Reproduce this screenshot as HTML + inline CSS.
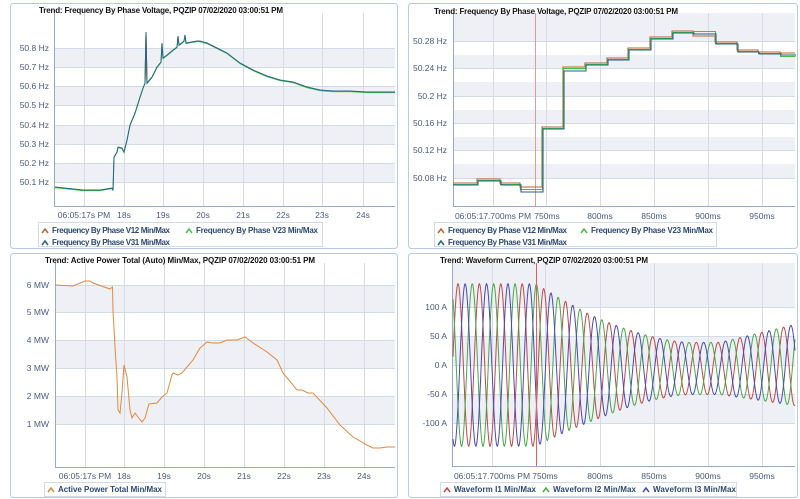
<!DOCTYPE html>
<html><head><meta charset="utf-8"><style>
html,body{margin:0;padding:0;background:#fff;width:800px;height:499px;overflow:hidden}
svg{display:block}
text{font-family:"Liberation Sans",sans-serif}
.t{font-size:8px;font-weight:bold;fill:#111}
.y{font-size:8.5px;fill:#4a5a78;text-anchor:end}
.x{font-size:8.5px;fill:#4a5a78;text-anchor:middle}
.l{font-size:8px;font-weight:bold;fill:#2c4870}
.fr{fill:none;stroke:#b9cbe0;stroke-width:1}
.g{stroke:#d3dbe6;stroke-width:1}
.ax{stroke:#97a9c3;stroke-width:1;fill:none}
.band{fill:#eef0f5}
</style></head><body>
<svg id="s" width="800" height="499" viewBox="0 0 800 499" xmlns="http://www.w3.org/2000/svg">
<rect class="fr" x="10.5" y="3.5" width="387" height="245" rx="3"/>
<rect class="fr" x="408.5" y="3.5" width="389" height="245" rx="3"/>
<rect class="fr" x="10.5" y="253.5" width="387" height="244" rx="3"/>
<rect class="fr" x="408.5" y="253.5" width="389" height="244" rx="3"/>

<!-- Panel 1 -->
<rect class="band" x="54" y="48" width="341" height="19"/>
<rect class="band" x="54" y="87" width="341" height="19"/>
<rect class="band" x="54" y="125" width="341" height="19"/>
<rect class="band" x="54" y="163" width="341" height="19"/>
<g class="g">
<line x1="54" x2="395" y1="48.5" y2="48.5"/><line x1="54" x2="395" y1="67.5" y2="67.5"/><line x1="54" x2="395" y1="86.5" y2="86.5"/><line x1="54" x2="395" y1="105.5" y2="105.5"/><line x1="54" x2="395" y1="125.5" y2="125.5"/><line x1="54" x2="395" y1="144.5" y2="144.5"/><line x1="54" x2="395" y1="163.5" y2="163.5"/><line x1="54" x2="395" y1="182.5" y2="182.5"/>
<line x1="84.5" x2="84.5" y1="13" y2="206"/><line x1="124.5" x2="124.5" y1="13" y2="206"/><line x1="163.5" x2="163.5" y1="13" y2="206"/><line x1="203.5" x2="203.5" y1="13" y2="206"/><line x1="243.5" x2="243.5" y1="13" y2="206"/><line x1="283.5" x2="283.5" y1="13" y2="206"/><line x1="322.5" x2="322.5" y1="13" y2="206"/><line x1="363.5" x2="363.5" y1="13" y2="206"/>
</g>
<polyline class="ax" points="54.5,13 54.5,206.5 395,206.5"/>
<text class="t" x="39" y="13" textLength="244">Trend: Frequency By Phase Voltage, PQZIP 07/02/2020 03:00:51 PM</text>
<g class="y"><text x="49" y="51">50.8 Hz</text><text x="49" y="70">50.7 Hz</text><text x="49" y="89">50.6 Hz</text><text x="49" y="108">50.5 Hz</text><text x="49" y="128">50.4 Hz</text><text x="49" y="147">50.3 Hz</text><text x="49" y="166">50.2 Hz</text><text x="49" y="185">50.1 Hz</text></g>
<g class="x"><text x="84" y="218">06:05:17s PM</text><text x="124" y="218">18s</text><text x="163" y="218">19s</text><text x="203" y="218">20s</text><text x="243" y="218">21s</text><text x="283" y="218">22s</text><text x="322" y="218">23s</text><text x="363" y="218">24s</text></g>
<polyline id="f1g" fill="none" stroke="#3cc43c" stroke-width="1" points=""/>
<polyline id="f1o" fill="none" stroke="#c0622a" stroke-width="1" points=""/>
<polyline id="f1b" fill="none" stroke="#2a6486" stroke-width="1" points=""/>
<rect x="38.5" y="222.5" width="284" height="24" fill="#fff" stroke="#d3dbe6"/>
<polyline points="42,233 45,229 48,233" fill="none" stroke="#c0622a" stroke-width="1.5"/>
<text class="l" x="52" y="233" textLength="118">Frequency By Phase V12 Min/Max</text>
<polyline points="186,233 189,229 192,233" fill="none" stroke="#3cc43c" stroke-width="1.5"/>
<text class="l" x="196" y="233" textLength="122">Frequency By Phase V23 Min/Max</text>
<polyline points="42,245 45,241 48,245" fill="none" stroke="#2a5f86" stroke-width="1.5"/>
<text class="l" x="52" y="245" textLength="118">Frequency By Phase V31 Min/Max</text>

<!-- Panel 2 -->
<rect class="band" x="453" y="13" width="342" height="28"/>
<rect class="band" x="453" y="55" width="342" height="14"/>
<rect class="band" x="453" y="82" width="342" height="14"/>
<rect class="band" x="453" y="110" width="342" height="14"/>
<rect class="band" x="453" y="137" width="342" height="14"/>
<rect class="band" x="453" y="164" width="342" height="14"/>
<g class="g">
<line x1="453" x2="795" y1="41.5" y2="41.5"/><line x1="453" x2="795" y1="68.5" y2="68.5"/><line x1="453" x2="795" y1="96.5" y2="96.5"/><line x1="453" x2="795" y1="123.5" y2="123.5"/><line x1="453" x2="795" y1="150.5" y2="150.5"/><line x1="453" x2="795" y1="178.5" y2="178.5"/>
<line x1="493.5" x2="493.5" y1="13" y2="206"/><line x1="546.5" x2="546.5" y1="13" y2="206"/><line x1="600.5" x2="600.5" y1="13" y2="206"/><line x1="654.5" x2="654.5" y1="13" y2="206"/><line x1="708.5" x2="708.5" y1="13" y2="206"/><line x1="762.5" x2="762.5" y1="13" y2="206"/>
</g>
<polyline class="ax" points="453.5,13 453.5,206.5 795,206.5"/>
<text class="t" x="434" y="14" textLength="244">Trend: Frequency By Phase Voltage, PQZIP 07/02/2020 03:00:51 PM</text>
<g class="y"><text x="447" y="44">50.28 Hz</text><text x="447" y="71">50.24 Hz</text><text x="447" y="99">50.2 Hz</text><text x="447" y="126">50.16 Hz</text><text x="447" y="153">50.12 Hz</text><text x="447" y="181">50.08 Hz</text></g>
<g class="x"><text x="493" y="219">06:05:17.700ms PM</text><text x="547" y="219">750ms</text><text x="600" y="219">800ms</text><text x="654" y="219">850ms</text><text x="708" y="219">900ms</text><text x="762" y="219">950ms</text></g>
<line x1="535.5" x2="535.5" y1="13" y2="206" stroke="#e59a9a" stroke-width="1"/>
<polyline id="f2o" fill="none" stroke="#c0622a" stroke-width="1.1" points=""/>
<polyline id="f2g" fill="none" stroke="#3cc43c" stroke-width="1.1" points=""/>
<polyline id="f2b" fill="none" stroke="#2a5f86" stroke-width="1.1" points=""/>
<rect x="434.5" y="222.5" width="282" height="24" fill="#fff" stroke="#d3dbe6"/>
<polyline points="438,233 441,229 444,233" fill="none" stroke="#c0622a" stroke-width="1.5"/>
<text class="l" x="448" y="233" textLength="119">Frequency By Phase V12 Min/Max</text>
<polyline points="581,233 584,229 587,233" fill="none" stroke="#3cc43c" stroke-width="1.5"/>
<text class="l" x="591" y="233" textLength="122">Frequency By Phase V23 Min/Max</text>
<polyline points="438,245 441,241 444,245" fill="none" stroke="#2a5f86" stroke-width="1.5"/>
<text class="l" x="448" y="245" textLength="119">Frequency By Phase V31 Min/Max</text>

<!-- Panel 3 -->
<rect class="band" x="55" y="285" width="340" height="27"/>
<rect class="band" x="55" y="340" width="340" height="28"/>
<rect class="band" x="55" y="396" width="340" height="28"/>
<g class="g">
<line x1="55" x2="395" y1="285.5" y2="285.5"/><line x1="55" x2="395" y1="312.5" y2="312.5"/><line x1="55" x2="395" y1="340.5" y2="340.5"/><line x1="55" x2="395" y1="368.5" y2="368.5"/><line x1="55" x2="395" y1="396.5" y2="396.5"/><line x1="55" x2="395" y1="424.5" y2="424.5"/>
<line x1="85.5" x2="85.5" y1="263" y2="467"/><line x1="124.5" x2="124.5" y1="263" y2="467"/><line x1="164.5" x2="164.5" y1="263" y2="467"/><line x1="204.5" x2="204.5" y1="263" y2="467"/><line x1="244.5" x2="244.5" y1="263" y2="467"/><line x1="284.5" x2="284.5" y1="263" y2="467"/><line x1="324.5" x2="324.5" y1="263" y2="467"/><line x1="364.5" x2="364.5" y1="263" y2="467"/>
</g>
<polyline class="ax" points="55.5,263 55.5,467.5 395,467.5"/>
<text class="t" x="45" y="263" textLength="270">Trend: Active Power Total (Auto) Min/Max, PQZIP 07/02/2020 03:00:51 PM</text>
<g class="y"><text x="49" y="288">6 MW</text><text x="49" y="315">5 MW</text><text x="49" y="343">4 MW</text><text x="49" y="371">3 MW</text><text x="49" y="399">2 MW</text><text x="49" y="427">1 MW</text></g>
<g class="x"><text x="85" y="479">06:05:17s PM</text><text x="124" y="479">18s</text><text x="164" y="479">19s</text><text x="204" y="479">20s</text><text x="244" y="479">21s</text><text x="284" y="479">22s</text><text x="324" y="479">23s</text><text x="364" y="479">24s</text></g>
<polyline fill="none" stroke="#e08a3c" stroke-width="1" points="55,285 73,286 85,281 90,281 93,283 110,289 112.5,287 113,310 115,347 117,377 118,410 120,413 122,393 124,365 127,377 130,410 132,418 135,413 138,417 142,422 145,418 149,404 157,403 162,397 167,393 172,375 173,373 178,375 182,373 187,367 193,360 200,348 207,342 212,343 220,343 227,340 237,340 245,337 253,343 267,352 277,360 283,373 293,385 297,390 302,390 308,393 313,393 327,408 340,425 353,437 367,445 373,448 380,448 387,447 395,447"/>
<rect x="44.5" y="482.5" width="121" height="14" fill="#fff" stroke="#d3dbe6"/>
<polyline points="48,492 51,488 54,492" fill="none" stroke="#e08a3c" stroke-width="1.5"/>
<text class="l" x="58" y="492" textLength="104">Active Power Total Min/Max</text>

<!-- Panel 4 -->
<rect class="band" x="452" y="263" width="343" height="44"/>
<rect class="band" x="452" y="336" width="343" height="29"/>
<rect class="band" x="452" y="394" width="343" height="29"/>
<g class="g">
<line x1="452" x2="795" y1="307.5" y2="307.5"/><line x1="452" x2="795" y1="336.5" y2="336.5"/><line x1="452" x2="795" y1="365.5" y2="365.5"/><line x1="452" x2="795" y1="394.5" y2="394.5"/><line x1="452" x2="795" y1="423.5" y2="423.5"/>
<line x1="492.5" x2="492.5" y1="263" y2="466"/><line x1="545.5" x2="545.5" y1="263" y2="466"/><line x1="600.5" x2="600.5" y1="263" y2="466"/><line x1="654.5" x2="654.5" y1="263" y2="466"/><line x1="708.5" x2="708.5" y1="263" y2="466"/><line x1="762.5" x2="762.5" y1="263" y2="466"/>
</g>
<polyline class="ax" points="452.5,263 452.5,466.5 795,466.5"/>
<text class="t" x="440" y="263" textLength="208">Trend: Waveform Current, PQZIP 07/02/2020 03:00:51 PM</text>
<g class="y"><text x="447" y="310">100 A</text><text x="447" y="339">50 A</text><text x="447" y="368">0 A</text><text x="447" y="397">-50 A</text><text x="447" y="426">-100 A</text></g>
<g class="x"><text x="492" y="479">06:05:17.700ms PM</text><text x="545" y="479">750ms</text><text x="600" y="479">800ms</text><text x="654" y="479">850ms</text><text x="708" y="479">900ms</text><text x="762" y="479">950ms</text></g>
<polyline id="w1" fill="none" stroke="#c04848" stroke-width="1" points=""/>
<polyline id="w2" fill="none" stroke="#48a848" stroke-width="1" points=""/>
<polyline id="w3" fill="none" stroke="#4848b8" stroke-width="1" points=""/>
<line x1="536.5" x2="536.5" y1="263" y2="466" stroke="#e06060" stroke-width="1"/>
<rect x="440.5" y="482.5" width="296" height="14" fill="#fff" stroke="#d3dbe6"/>
<polyline points="444,492 447,488 450,492" fill="none" stroke="#c04848" stroke-width="1.5"/>
<text class="l" x="454" y="492" textLength="82">Waveform I1 Min/Max</text>
<polyline points="543,492 546,488 549,492" fill="none" stroke="#48a848" stroke-width="1.5"/>
<text class="l" x="553" y="492" textLength="83">Waveform I2 Min/Max</text>
<polyline points="643,492 646,488 649,492" fill="none" stroke="#4848b8" stroke-width="1.5"/>
<text class="l" x="653" y="492" textLength="83">Waveform I3 Min/Max</text>
</svg>
<script>
function set(id,pts){document.getElementById(id).setAttribute('points',pts.map(function(p){return p[0].toFixed(1)+','+p[1].toFixed(1)}).join(' '));}
var f1=[[55,187],[83,190],[100,190],[112,188],[113,190],[114,157],[117,152],[118,147],[122,148],[124,152],[127,140],[130,125],[135,113],[140,97],[143,88],[145,83],[146,32],[147,83],[152,77],[157,67],[161,62],[162,43],[163,58],[167,55],[173,50],[177,47],[178,36],[179,45],[184,41],[185,35],[186,43],[197,41],[200,41],[207,43],[217,48],[227,53],[240,63],[253,70],[267,76],[280,80],[293,82],[307,87],[320,90],[333,91],[350,91],[367,92],[395,92]];
set('f1g',f1.map(function(p){return [p[0],p[1]+0.6]}));
set('f1o',f1.filter(function(p){return p[0]>=145&&p[0]<=148}));
set('f1b',f1.map(function(p){return [p[0],p[1]]}));
var st=[[453,184],[477,180],[500,184],[520,189],[542,128],[563,68],[585,64],[607,59],[628,49],[650,38],[672,32],[693,33],[715,43],[737,51],[758,53],[780,54],[795,54]];
function steps(dy,dx,varr){var o=[];for(var i=0;i<st.length-1;i++){var y=st[i][1]+dy+(varr?varr[i]||0:0);o.push([st[i][0]+(i?dx:0),y]);o.push([st[i+1][0]+dx,y]);}return o;}
set('f2o',steps(-1,0,{3:-1,11:4,12:0}));
set('f2g',steps(0.5,0.5,{11:-2,15:2}));
set('f2b',steps(1,1,{3:2,5:2}));
function env(x){if(x<536)return 140;if(x<690){var t=(x-536)/154;return 45+95*Math.pow(1-t,1.6);}if(x<720)return 45;return 45+25*(x-720)/75;}
function off(x){return x<536?0:-6*Math.min(1,(x-536)/60)*(x<720?1:1-(x-720)/75);}
function phase(x){ if(x<536) return (x-458)/21.4; return (536-458)/21.4+(x-536)/21.8; }
function wave(id,ph){var o=[];for(var x=453;x<=795;x+=0.5){var A=env(x)*0.58;var y=365-(A*Math.cos(2*Math.PI*phase(x)+ph))-off(x)*0.58;o.push([x,y]);}set(id,o);}
wave('w1',0);wave('w3',-2*Math.PI/3);wave('w2',-4*Math.PI/3);
</script>
</body></html>
